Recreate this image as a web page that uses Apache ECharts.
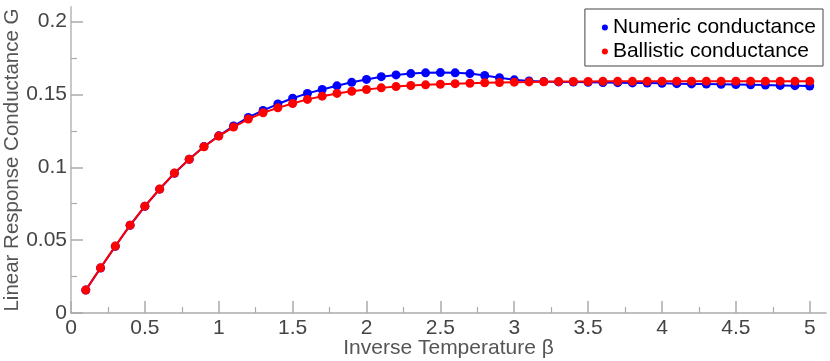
<!DOCTYPE html>
<html>
<head>
<meta charset="utf-8">
<script src="https://cdn.jsdelivr.net/npm/echarts@6/dist/echarts.min.js"></script>
<style>
html,body{margin:0;padding:0;background:#fff;}
#c{width:830px;height:361px;}
</style>
</head>
<body>
<div id="c"></div>
<script>
var beta = [0.1,0.2,0.3,0.4,0.5,0.6,0.7,0.8,0.9,1.0,
            1.1,1.2,1.3,1.4,1.5,1.6,1.7,1.8,1.9,2.0,
            2.1,2.2,2.3,2.4,2.5,2.6,2.7,2.8,2.9,3.0,
            3.1,3.2,3.3,3.4,3.5,3.6,3.7,3.8,3.9,4.0,
            4.1,4.2,4.3,4.4,4.5,4.6,4.7,4.8,4.9,5.0];
var numeric = [0.0157,0.0309,0.0458,0.0602,0.0732,0.0850,0.0959,0.1055,0.1142,0.1216,
               0.1283,0.1342,0.1390,0.1434,0.1474,0.1507,0.1534,0.1559,0.1583,0.1603,
               0.1622,0.1634,0.1643,0.1648,0.1650,0.1648,0.1643,0.1630,0.1615,0.1600,
               0.1593,0.1588,0.1586,0.1585,0.1583,0.1582,0.1581,0.1579,0.1578,0.1576,
               0.1574,0.1572,0.1571,0.1570,0.1568,0.1566,0.1564,0.1562,0.1560,0.1558];
var ballistic = [0.0158,0.0310,0.0459,0.0603,0.0733,0.0851,0.0960,0.1055,0.1141,0.1214,
                 0.1276,0.1331,0.1374,0.1408,0.1438,0.1466,0.1488,0.1507,0.1522,0.1534,
                 0.1545,0.1554,0.1561,0.1566,0.1570,0.1574,0.1577,0.1580,0.1582,0.1584,
                 0.1586,0.1587,0.1588,0.1589,0.1589,0.1590,0.1590,0.1590,0.1590,0.1591,
                 0.1591,0.1591,0.1591,0.1591,0.1591,0.1591,0.1591,0.1591,0.1591,0.1591];
var xMajor = [0,0.5,1,1.5,2,2.5,3,3.5,4,4.5,5];
var xMinor = [0.25,0.75,1.25,1.75,2.25,2.75,3.25,3.75,4.25,4.75];
var yMajor = [0,0.05,0.1,0.15,0.2];
var yMinor = [0.025,0.075,0.125,0.175];

function pairs(xs, ys){ return xs.map(function(x,i){ return [x, ys[i]]; }); }

var FONT = "'Liberation Sans', Arial, sans-serif";
var AX = '#aaaaaa';
var chart = echarts.init(document.getElementById('c'), null, {renderer:'canvas'});
chart.setOption({
  animation:false,
  backgroundColor:'#ffffff',
  grid:{left:71, right:4, top:7, bottom:48, containLabel:false, outerBoundsMode:'none'},
  legend:{
    orient:'vertical', right:7, top:9,
    icon:'circle', itemWidth:6, itemHeight:6, itemGap:3, itemTextGap:15,
    padding:[8,7,4,17],
    backgroundColor:'#fff', borderColor:'#444', borderWidth:1, borderRadius:0,
    textStyle:{fontFamily:FONT, fontSize:21, color:'#000', lineHeight:21},
    data:['Numeric conductance','Ballistic conductance']
  },
  xAxis:[{
    type:'value', min:0, max:5.11,
    name:'Inverse Temperature β', nameLocation:'middle', nameGap:25, nameMoveOverlap:false,
    nameTextStyle:{fontFamily:FONT, fontSize:21, color:'#555'},
    axisLine:{show:true, onZero:false, lineStyle:{color:AX, width:1.5}},
    axisTick:{show:true, inside:true, length:12, customValues:xMajor, lineStyle:{color:AX, width:1.5}},
    axisLabel:{show:true, margin:5, customValues:xMajor, fontFamily:FONT, fontSize:21, color:'#444',
      formatter:function(v){return String(v);}},
    splitLine:{show:false}
  },{
    type:'value', min:0, max:5.11, position:'bottom',
    axisLine:{show:false},
    axisTick:{show:true, inside:true, length:6, customValues:xMinor, lineStyle:{color:AX, width:1.2}},
    axisLabel:{show:false}, splitLine:{show:false}
  }],
  yAxis:[{
    type:'value', min:0, max:0.21,
    name:'Linear Response Conductance G', nameLocation:'middle', nameGap:48, nameMoveOverlap:false,
    nameTextStyle:{fontFamily:FONT, fontSize:20.5, color:'#555'},
    axisLine:{show:true, onZero:false, lineStyle:{color:'#c8c8c8', width:2}},
    axisTick:{show:true, inside:true, length:12, customValues:yMajor, lineStyle:{color:AX, width:1.5}},
    axisLabel:{show:true, margin:4, customValues:yMajor, fontFamily:FONT, fontSize:21, color:'#444',
      formatter:function(v){return String(v);}},
    splitLine:{show:false}
  },{
    type:'value', min:0, max:0.21, position:'left',
    axisLine:{show:false},
    axisTick:{show:true, inside:true, length:6, customValues:yMinor, lineStyle:{color:AX, width:1.2}},
    axisLabel:{show:false}, splitLine:{show:false}
  }],
  series:[{
    name:'Numeric conductance', type:'line', xAxisIndex:0, yAxisIndex:0,
    data:pairs(beta, numeric),
    symbol:'circle', symbolSize:9, showSymbol:true,
    lineStyle:{color:'#0000ff', width:2},
    itemStyle:{color:'#0000ff'},
    z:2
  },{
    name:'Ballistic conductance', type:'line', xAxisIndex:0, yAxisIndex:0,
    data:pairs(beta, ballistic),
    symbol:'circle', symbolSize:9, showSymbol:true,
    lineStyle:{color:'#ff0000', width:2},
    itemStyle:{color:'#ff0000'},
    z:3
  }]
});
</script>
</body>
</html>
